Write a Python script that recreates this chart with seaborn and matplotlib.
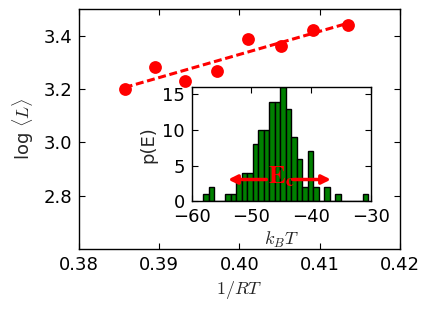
import numpy as np
import pandas as pd
import seaborn as sns
import matplotlib
matplotlib.use("Agg")
import matplotlib.pyplot as plt

# main panel: log<L> vs 1/RT
inv_rt = [0.3857, 0.3895, 0.3932, 0.3972, 0.4010, 0.4052, 0.4091, 0.4135]
log_l = [3.200, 3.283, 3.230, 3.266, 3.387, 3.362, 3.420, 3.440]

# inset: histogram of energies
hist_lo = -58.06
hist_hi = -30.45
hist_counts = [1, 2, 0, 0, 1, 1, 3, 4, 4, 8,
               10, 10, 14, 14, 16, 13, 9, 6, 2, 7,
               2, 0, 2, 0, 1, 0, 0, 0, 0, 1]
ec_text_x = -47.2
ec_text_y = 2.5
ec_left = (-47.5, -53.9)
ec_right = (-43.0, -36.7)
ec_level = 3.06

sns.set_style("ticks")
plt.rcParams["font.family"] = ["DejaVu Sans"]
plt.rcParams["mathtext.fontset"] = "cm"
plt.rcParams["font.size"] = 13
plt.rcParams["axes.linewidth"] = 1.0
for ax_name in ["xtick", "ytick"]:
    plt.rcParams[ax_name + ".direction"] = "in"
    plt.rcParams[ax_name + ".major.size"] = 4
    plt.rcParams[ax_name + ".major.width"] = 0.8
    plt.rcParams[ax_name + ".labelsize"] = 13
    plt.rcParams[ax_name + ".color"] = "black"
plt.rcParams["xtick.major.pad"] = 5
plt.rcParams["ytick.major.pad"] = 5
plt.rcParams["xtick.top"] = True
plt.rcParams["ytick.right"] = True

fig = plt.figure(figsize=(4.3, 3.11), dpi=100)
ax = fig.add_axes([0.1837, 0.1994, 0.7465, 0.7717])

df = pd.DataFrame({"x": inv_rt, "y": log_l})
sns.regplot(data=df, x="x", y="y", ax=ax, ci=None, truncate=True,
            scatter_kws=dict(color="red", s=85, linewidths=0, alpha=1, zorder=3),
            line_kws=dict(color="red", lw=2.2, dashes=(2.6, 1.2), zorder=2))
ax.set_xlim(0.38, 0.42)
ax.set_ylim(2.6, 3.5)
ax.set_xticks([0.38, 0.39, 0.40, 0.41, 0.42])
ax.set_yticks([2.8, 3.0, 3.2, 3.4])
ax.set_xticklabels(["0.38", "0.39", "0.40", "0.41", "0.42"])
ax.set_yticklabels(["2.8", "3.0", "3.2", "3.4"])
ax.set_xlabel(r"$1/RT$", fontsize=13, labelpad=4)
ax.set_ylabel(r"log $\langle L\rangle$", fontsize=13, labelpad=5)
for s in ax.spines.values():
    s.set_visible(True)
    s.set_color("black")

# inset histogram
ins = fig.add_axes([0.4457, 0.3527, 0.417, 0.3666])
edges = np.linspace(hist_lo, hist_hi, len(hist_counts) + 1)
hist_df = pd.DataFrame({"E": (edges[:-1] + edges[1:]) / 2, "n": hist_counts})
sns.histplot(data=hist_df, x="E", weights="n", bins=list(edges), ax=ins,
             color="green", edgecolor="black", linewidth=1, alpha=1)
ins.set_xlim(-60, -30)
ins.set_ylim(0, 16)
ins.set_xticks([-60, -50, -40, -30])
ins.set_yticks([0, 5, 10, 15])
ins.set_xlabel(r"$k_BT$", fontsize=13, labelpad=3)
ins.set_ylabel("p(E)", fontsize=13, labelpad=3)
for s in ins.spines.values():
    s.set_visible(True)
    s.set_color("black")

arrow = dict(arrowstyle="-|>", color="red", lw=2.5, mutation_scale=13,
             shrinkA=0, shrinkB=0)
ins.annotate("", xy=(ec_left[1], ec_level), xytext=(ec_left[0], ec_level),
             arrowprops=arrow)
ins.annotate("", xy=(ec_right[1], ec_level), xytext=(ec_right[0], ec_level),
             arrowprops=arrow)
ins.text(ec_text_x, ec_text_y, r"$\mathbf{E_c}$", color="red", fontsize=18,
         ha="left", va="baseline", zorder=6, math_fontfamily="stix")

fig.savefig("out.png", dpi=100)
